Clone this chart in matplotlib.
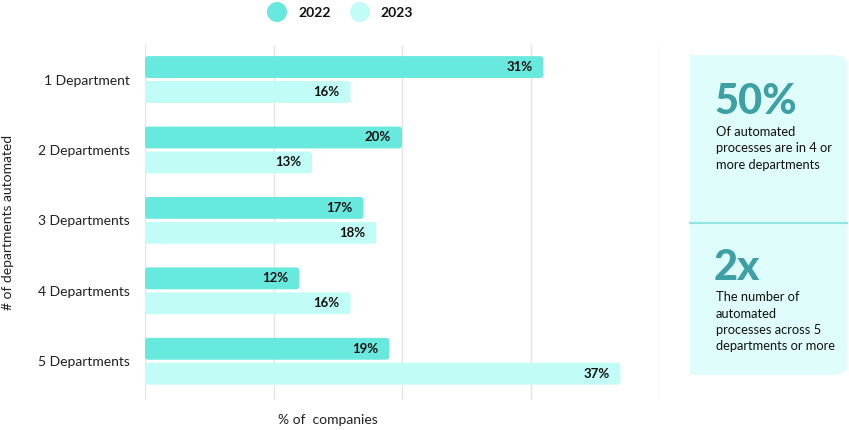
import matplotlib.pyplot as plt
from matplotlib.patches import FancyBboxPatch, Circle, Rectangle
from matplotlib.transforms import IdentityTransform
import numpy as np

plt.rcParams['font.family'] = ['Lato', 'DejaVu Sans']

# data
categories = ['1 Department', '2 Departments', '3 Departments', '4 Departments', '5 Departments']
vals_2022 = [31, 20, 17, 12, 19]
vals_2023 = [16, 13, 18, 16, 37]
years = ['2022', '2023']

c22 = '#68E9DD'
c23 = '#C1FCF6'
teal = '#3CA0A4'

W, H = 849, 430
fig = plt.figure(figsize=(W / 100, H / 100), dpi=100)

ax = fig.add_axes([145 / W, 30 / H, (659 - 145) / W, (400 - 45) / H])
y = np.arange(len(categories))
bh = 0.31
off = 0.177

bars22 = ax.barh(y - off, vals_2022, height=bh, color=c22)
bars23 = ax.barh(y + off, vals_2023, height=bh, color=c23)

# swap the plain rectangles for slightly rounded ones
px_x = (659 - 145) / 40
px_y = 70.5
for bars in (bars22, bars23):
    for b in bars:
        x0, y0 = b.get_x(), b.get_y()
        w, h = b.get_width(), b.get_height()
        b.set_visible(False)
        ax.add_patch(FancyBboxPatch((x0, y0), w, h,
                                    boxstyle='round,pad=0,rounding_size=0.25',
                                    mutation_aspect=px_x / px_y,
                                    fc=b.get_facecolor(), ec='none', zorder=2))

for bars, vals in ((bars22, vals_2022), (bars23, vals_2023)):
    for b, v in zip(bars, vals):
        ax.text(v - 0.85, b.get_y() + b.get_height() / 2, f'{v}%',
                ha='right', va='center', fontsize=9.5, fontweight='bold',
                color='#111111', zorder=3)

ax.set_xlim(0, 40)
ax.set_ylim(4.55, -0.49)
ax.set_xticks([0, 10, 20, 30, 40])
ax.set_xticklabels([])
ax.xaxis.grid(True, color='#E4E4E4', linewidth=1)
ax.set_axisbelow(True)
ax.tick_params(axis='x', length=0)
ax.tick_params(axis='y', length=0, pad=11, labelsize=10, labelcolor='#222222')
ax.set_yticks(y)
ax.set_yticklabels(categories)
for s in ax.spines.values():
    s.set_visible(False)

fig.text(8 / W, 1 - 222 / H, '# of departments automated', rotation=90,
         ha='center', va='center', fontsize=10, color='#222222')
fig.text(328 / W, 1 - 420 / H, '% of  companies', ha='center', va='center',
         fontsize=10, color='#222222')

# legend (circles in pixel units so they stay round)
for cx, col, lab, tx in ((277, c22, years[0], 298), (360, c23, years[1], 380)):
    fig.patches.append(Circle((cx, H - 12), 10, transform=IdentityTransform(),
                              fc=col, ec='none'))
    fig.text(tx / W, 1 - 13 / H, lab, ha='left', va='center', fontsize=10,
             fontweight='bold', color='#111111')

# side panel
panel_bg = '#DFFEFB'
fig.patches.append(FancyBboxPatch((690 / W, 1 - 375 / H), 157 / W, 320 / H,
                                  boxstyle='round,pad=0,rounding_size=0.018',
                                  transform=fig.transFigure, fc=panel_bg, ec='none'))
fig.patches.append(Rectangle((690 / W, 1 - 375 / H), 30 / W, 320 / H,
                             transform=fig.transFigure, fc=panel_bg, ec='none'))
fig.lines.append(plt.Line2D([690 / W, 847 / W], [1 - 223 / H, 1 - 223 / H],
                            transform=fig.transFigure, color='#8FE5E0', lw=1.5))

fig.text(714 / W, 1 - 102 / H, '50%', ha='left', va='center', fontsize=30,
         fontweight='black', color=teal)
fig.text(716 / W, 1 - 126 / H, 'Of automated\nprocesses are in 4 or\nmore departments',
         ha='left', va='top', fontsize=9.3, color='#111111', linespacing=1.45)
fig.text(714 / W, 1 - 268 / H, '2x', ha='left', va='center', fontsize=30,
         fontweight='black', color=teal)
fig.text(716 / W, 1 - 291 / H,
         'The number of\nautomated\nprocesses across 5\ndepartments or more',
         ha='left', va='top', fontsize=9.3, color='#111111', linespacing=1.45)

fig.savefig('out.png', dpi=100)
